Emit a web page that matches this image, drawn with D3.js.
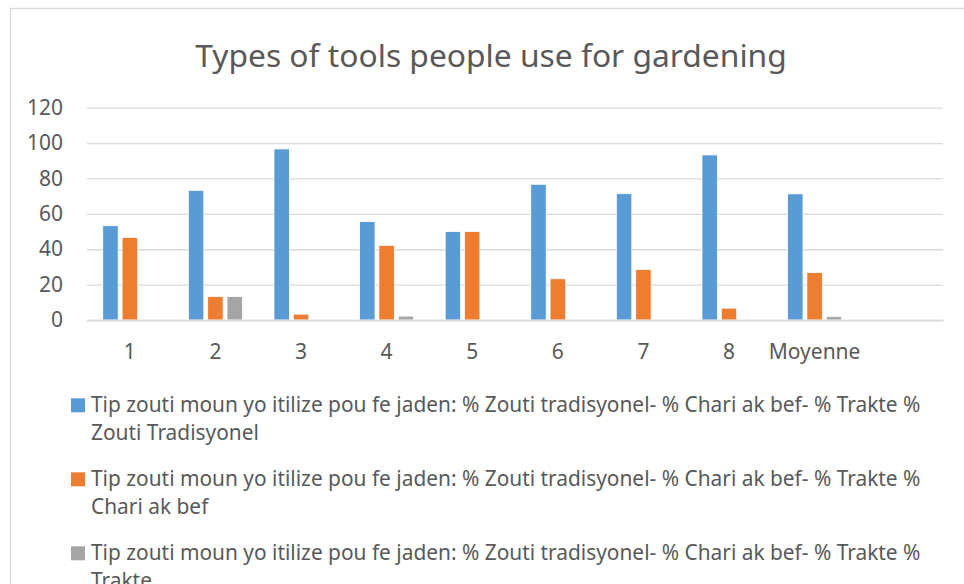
<!DOCTYPE html>
<html>
<head>
<meta charset="utf-8">
<script src="https://cdn.jsdelivr.net/npm/d3@7"></script>
<style>
  html, body { margin: 0; padding: 0; background: #fff; }
  svg { display: block; font-family: "Noto Sans", "Open Sans", sans-serif; }
</style>
</head>
<body>
<div id="chart"></div>
<script>
// chart data
const categories = ['1', '2', '3', '4', '5', '6', '7', '8', 'Moyenne', ''];
const seriesNames = [
  'Tip zouti moun yo itilize pou fe jaden: % Zouti tradisyonel- % Chari ak bef- % Trakte % Zouti Tradisyonel',
  'Tip zouti moun yo itilize pou fe jaden: % Zouti tradisyonel- % Chari ak bef- % Trakte % Chari ak bef',
  'Tip zouti moun yo itilize pou fe jaden: % Zouti tradisyonel- % Chari ak bef- % Trakte % Trakte'
];
const traditional = [53.3, 73.3, 96.7, 55.6, 50, 76.7, 71.4, 93.3, 71.3, null];
const oxCart      = [46.7, 13.3, 3.3, 42.2, 50, 23.3, 28.6, 6.7, 26.8, null];
const tractor     = [0, 13.3, 0, 2.2, 0, 0, 0, 0, 1.9, null];
const yTicks = [0, 20, 40, 60, 80, 100, 120];
const colors = ['#5b9bd5', '#ed7d31', '#a5a5a5'];

const width = 964, height = 584;
const plot = { left: 87, right: 943, top: 107.7, bottom: 320 };
const textColor = '#595959';
const gridColor = '#d9d9d9';

const svg = d3.select('#chart').append('svg')
  .attr('width', width)
  .attr('height', height);

// chart area border (top and left visible, rest runs off the picture)
svg.append('rect')
  .attr('x', 10.5).attr('y', 8.5)
  .attr('width', 980).attr('height', 620)
  .attr('fill', '#fff')
  .attr('stroke', gridColor)
  .attr('stroke-width', 1.3);

// title, fitted to the width it has in the reference
const title = svg.append('text')
  .attr('x', 491).attr('y', 67)
  .attr('text-anchor', 'middle')
  .attr('fill', textColor)
  .style('font-size', '28px')
  .text('Types of tools people use for gardening');
const tw = title.node().getComputedTextLength();
title.style('font-size', (28 * 592 / tw) + 'px');

// scales
const x = d3.scaleBand()
  .domain(categories.map((c, i) => i))
  .range([plot.left, plot.right])
  .padding(0);

const groupWidth = 54.1;
const xSub = d3.scaleBand()
  .domain(d3.range(seriesNames.length))
  .range([0, groupWidth])
  .paddingInner(0.2)
  .paddingOuter(0);

const y = d3.scaleLinear()
  .domain([0, 120])
  .range([plot.bottom, plot.top]);

// gridlines + y labels
const yAxis = svg.append('g')
  .attr('transform', `translate(${plot.left},0)`)
  .call(d3.axisLeft(y).tickValues(yTicks).tickSize(-(plot.right - plot.left)).tickPadding(24));
yAxis.select('.domain').remove();
yAxis.selectAll('.tick line').attr('stroke', gridColor).attr('stroke-width', 1.3);
yAxis.selectAll('.tick text')
  .attr('fill', textColor)
  .style('font-size', '21px')
  .style('font-family', '"Noto Sans", sans-serif');

// bars
const series = [traditional, oxCart, tractor];
const groups = svg.append('g')
  .selectAll('g')
  .data(categories.map((c, i) => i))
  .join('g')
  .attr('transform', i => `translate(${x(i) + (x.bandwidth() - groupWidth) / 2},0)`);

groups.selectAll('rect')
  .data(i => series.map((s, k) => ({ k, v: s[i] })).filter(d => d.v != null && d.v > 0))
  .join('rect')
  .attr('x', d => xSub(d.k))
  .attr('y', d => y(d.v))
  .attr('width', xSub.bandwidth())
  .attr('height', d => y(0) - y(d.v))
  .attr('fill', d => colors[d.k])
  .attr('stroke', '#fff')
  .attr('stroke-width', 0.8);

// x axis
const xAxis = svg.append('g')
  .attr('transform', `translate(0,${plot.bottom})`)
  .call(d3.axisBottom(x).tickFormat(i => categories[i]).tickSize(0).tickPadding(24));
xAxis.select('.domain').attr('stroke', gridColor).attr('stroke-width', 1.3);
xAxis.selectAll('.tick text')
  .attr('fill', textColor)
  .style('font-size', '21px')
  .style('font-family', '"Noto Sans", sans-serif');

// legend, font sized so the first line is as wide as in the reference
const legend = svg.append('g');
const probe = legend.append('text').style('font-size', '18px')
  .text('Tip zouti moun yo itilize pou fe jaden: % Zouti tradisyonel- % Chari ak bef- % Trakte %');
const legendSize = 18 * 830 / probe.node().getComputedTextLength();
probe.remove();

seriesNames.forEach((name, k) => {
  const top = 398.3 + k * 74;
  legend.append('rect')
    .attr('x', 71).attr('y', top)
    .attr('width', 14).attr('height', 14)
    .attr('fill', colors[k]);
  const t = legend.append('text')
    .attr('x', 91).attr('y', top + 13.4)
    .attr('fill', textColor)
    .style('font-size', legendSize + 'px');
  // word wrap at the legend width
  const words = name.split(' ');
  let line = [];
  let tspan = t.append('tspan').attr('x', 91).attr('dy', 0);
  words.forEach(w => {
    line.push(w);
    tspan.text(line.join(' '));
    if (tspan.node().getComputedTextLength() > 840 && line.length > 1) {
      line.pop();
      tspan.text(line.join(' '));
      line = [w];
      tspan = t.append('tspan').attr('x', 91).attr('dy', 28.4).text(w);
    }
  });
});
</script>
</body>
</html>
